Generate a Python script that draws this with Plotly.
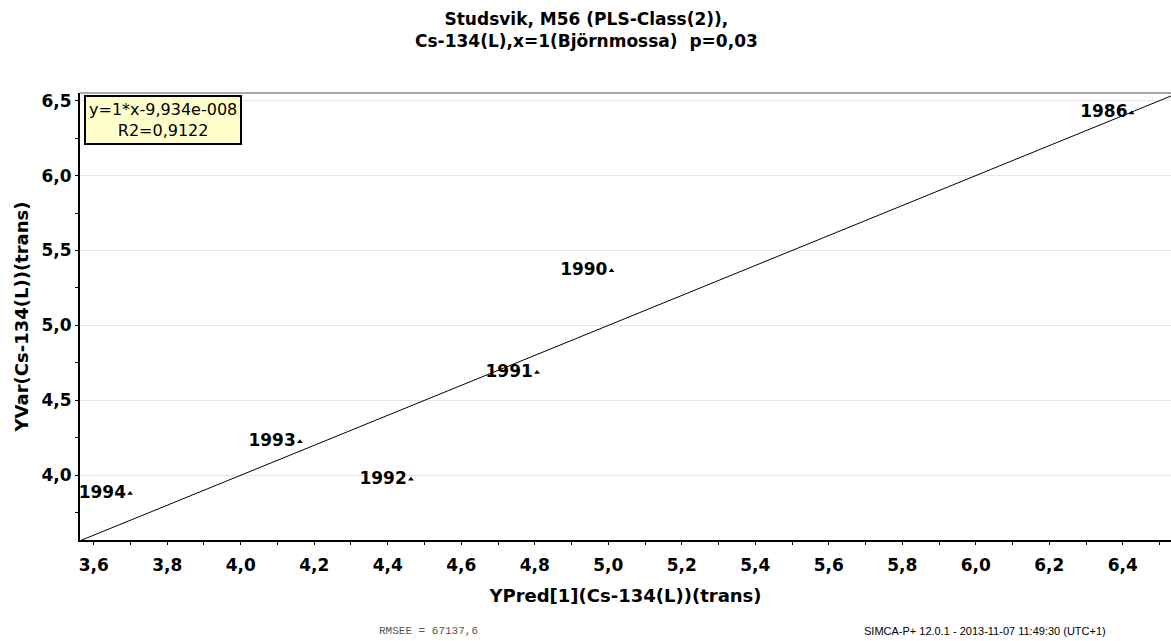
import plotly.graph_objects as go

# Observation years with predicted (x) and observed (y) transformed Cs-134 values
years = ["1986", "1990", "1991", "1993", "1992", "1994"]
y_pred = [6.424, 5.009, 4.806, 4.161, 4.463, 3.699]
y_var = [6.418, 5.364, 4.685, 4.224, 3.973, 3.879]

# Fitted regression line y = slope*x + intercept
slope = 1.0
intercept = -9.934e-8
r2_text = "R2=0,9122"
eq_text = "y=1*x-9,934e-008"

x_range = [3.5627, 6.531]
y_range = [3.568, 6.551]

x_ticks = [3.6, 3.8, 4.0, 4.2, 4.4, 4.6, 4.8, 5.0, 5.2, 5.4, 5.6, 5.8, 6.0, 6.2, 6.4]
y_ticks = [4.0, 4.5, 5.0, 5.5, 6.0, 6.5]

BOLD = dict(family="DejaVu Sans", weight="bold", color="black")

fig = go.Figure()

# regression line across the full x range
fig.add_trace(go.Scatter(
    x=x_range,
    y=[slope * v + intercept for v in x_range],
    mode="lines",
    line=dict(color="black", width=1),
    hoverinfo="skip",
    showlegend=False,
))

# observations
fig.add_trace(go.Scatter(
    x=y_pred,
    y=y_var,
    mode="markers+text",
    text=years,
    textposition="middle left",
    textfont=dict(size=17, **BOLD),
    marker=dict(symbol="triangle-up", size=5, color="black"),
    showlegend=False,
))

fig.update_layout(
    width=1171,
    height=641,
    margin=dict(l=80, r=0, t=93, b=101),
    paper_bgcolor="white",
    plot_bgcolor="white",
    separators=", ",
    xaxis=dict(
        range=x_range,
        tickvals=x_ticks,
        tickformat=".1f",
        ticks="outside", ticklen=3, tickcolor="black", tickwidth=1,
        minor=dict(dtick=0.1, tick0=3.6, ticks="outside", ticklen=3, tickcolor="black", showgrid=False),
        showgrid=False,
        showline=True, linecolor="black", linewidth=2,
        zeroline=False,
        tickfont=dict(size=17, **BOLD),
        ticklabelstandoff=6,
        title=dict(text="YPred[1](Cs-134(L))(trans)", font=dict(size=18, **BOLD), standoff=15),
    ),
    yaxis=dict(
        range=y_range,
        tickvals=y_ticks,
        tickformat=".1f",
        ticks="outside", ticklen=3, tickcolor="black", tickwidth=1,
        minor=dict(dtick=0.25, tick0=4.0, ticks="outside", ticklen=3, tickcolor="black", showgrid=False),
        showgrid=True, gridcolor="#e6e6e6", gridwidth=1,
        showline=True, linecolor="black", linewidth=2,
        zeroline=False,
        tickfont=dict(size=17, **BOLD),
        title=dict(text="YVar(Cs-134(L))(trans)", font=dict(size=18, **BOLD), standoff=8),
    ),
    shapes=[
        dict(type="line", xref="paper", yref="paper", x0=0, x1=1, y0=1, y1=1,
             line=dict(color="#555555", width=1)),
    ],
    annotations=[
        # chart title
        dict(
            text="Studsvik, M56 (PLS-Class(2)),<br>Cs-134(L),x=1(Björnmossa)\u00a0 p=0,03",
            xref="paper", yref="paper", x=(586 - 80) / 1091, y=1,
            xanchor="center", yanchor="bottom", yshift=40,
            showarrow=False, align="center",
            font=dict(size=17, **BOLD),
        ),
        # regression summary box
        dict(
            text=eq_text + "<br>" + r2_text,
            xref="paper", yref="paper", x=0, y=1,
            xanchor="left", yanchor="top", xshift=4, yshift=-2,
            showarrow=False, align="center",
            bgcolor="#ffffcc", bordercolor="black", borderwidth=2, borderpad=3,
            font=dict(family="DejaVu Sans", size=16, color="black"),
        ),
        dict(
            text="RMSEE = 67137,6",
            xref="paper", yref="paper", x=(428 - 80) / 1091, y=0,
            xanchor="center", yanchor="middle", yshift=-91,
            showarrow=False,
            font=dict(family="Liberation Mono", size=11, color="#555555"),
        ),
        dict(
            text="SIMCA-P+ 12.0.1 - 2013-11-07 11:49:30 (UTC+1)",
            xref="paper", yref="paper", x=(862 - 80) / 1091, y=0,
            xanchor="left", yanchor="middle", yshift=-91,
            showarrow=False,
            font=dict(family="Liberation Sans", size=11, color="black"),
        ),
    ],
)

fig.write_html("out.html")
